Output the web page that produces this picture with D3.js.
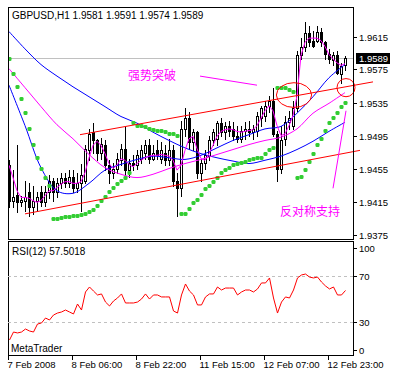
<!DOCTYPE html>
<html><head><meta charset="utf-8">
<script src="https://cdn.jsdelivr.net/npm/d3@7/dist/d3.min.js"></script>
<style>body{margin:0;background:#fff}svg{display:block}text{font-family:"Liberation Sans",Arial,sans-serif}</style>
</head><body><svg id="c" width="397" height="379"></svg>
<script>
const titleText = "GBPUSD,H1  1.9581 1.9591 1.9574 1.9589";
const rsiTitle = "RSI(12) 57.5018";
const brand = "MetaTrader";
const opens = [1.9459,1.9416,1.9423,1.9414,1.9416,1.9426,1.9408,1.9416,1.9426,1.9414,1.9426,1.9440,1.9426,1.9437,1.9443,1.9438,1.9445,1.9431,1.9438,1.9440,1.9477,1.9499,1.9489,1.9474,1.9483,1.9459,1.9450,1.9455,1.9465,1.9479,1.9453,1.9462,1.9459,1.9467,1.9474,1.9483,1.9467,1.9477,1.9467,1.9474,1.9465,1.9477,1.9440,1.9431,1.9503,1.9516,1.9487,1.9499,1.9450,1.9462,1.9470,1.9489,1.9491,1.9510,1.9499,1.9506,1.9503,1.9494,1.9491,1.9501,1.9503,1.9499,1.9501,1.9516,1.9519,1.9531,1.9537,1.9497,1.9455,1.9491,1.9511,1.9507,1.9528,1.9592,1.9602,1.9619,1.9610,1.9610,1.9620,1.9608,1.9594,1.9586,1.9593,1.9570,1.9581];
const highs = [1.9465,1.9453,1.9483,1.9422,1.9440,1.9437,1.9434,1.9426,1.9434,1.9434,1.9447,1.9443,1.9443,1.9450,1.9450,1.9453,1.9453,1.9450,1.9461,1.9483,1.9503,1.9510,1.9491,1.9492,1.9489,1.9465,1.9462,1.9474,1.9485,1.9507,1.9467,1.9471,1.9477,1.9483,1.9489,1.9491,1.9483,1.9489,1.9487,1.9483,1.9491,1.9483,1.9450,1.9513,1.9528,1.9523,1.9503,1.9501,1.9467,1.9477,1.9495,1.9503,1.9513,1.9516,1.9511,1.9513,1.9511,1.9507,1.9507,1.9511,1.9513,1.9508,1.9523,1.9531,1.9537,1.9543,1.9552,1.9501,1.9507,1.9519,1.9525,1.9537,1.9598,1.9613,1.9632,1.9628,1.9622,1.9628,1.9625,1.9610,1.9600,1.9596,1.9598,1.9583,1.9591];
const lows = [1.9408,1.9408,1.9402,1.9409,1.9404,1.9398,1.9400,1.9404,1.9409,1.9410,1.9419,1.9416,1.9421,1.9431,1.9433,1.9433,1.9426,1.9426,1.9404,1.9438,1.9465,1.9474,1.9465,1.9467,1.9453,1.9438,1.9443,1.9450,1.9459,1.9447,1.9445,1.9453,1.9455,1.9462,1.9467,1.9462,1.9465,1.9467,1.9462,1.9459,1.9459,1.9434,1.9398,1.9422,1.9495,1.9479,1.9477,1.9443,1.9440,1.9455,1.9465,1.9483,1.9483,1.9495,1.9491,1.9495,1.9489,1.9487,1.9487,1.9491,1.9494,1.9491,1.9495,1.9507,1.9513,1.9523,1.9495,1.9440,1.9450,1.9483,1.9503,1.9503,1.9525,1.9588,1.9598,1.9604,1.9602,1.9608,1.9604,1.9588,1.9583,1.9581,1.9569,1.9559,1.9574];
const closes = [1.9416,1.9421,1.9414,1.9417,1.9421,1.9408,1.9416,1.9421,1.9414,1.9426,1.9440,1.9426,1.9437,1.9443,1.9438,1.9445,1.9431,1.9438,1.9447,1.9479,1.9497,1.9489,1.9474,1.9485,1.9459,1.9450,1.9455,1.9467,1.9479,1.9453,1.9462,1.9459,1.9471,1.9477,1.9483,1.9467,1.9474,1.9471,1.9477,1.9465,1.9477,1.9440,1.9431,1.9503,1.9516,1.9487,1.9499,1.9450,1.9462,1.9471,1.9489,1.9499,1.9510,1.9499,1.9506,1.9501,1.9494,1.9491,1.9501,1.9503,1.9499,1.9503,1.9519,1.9528,1.9531,1.9537,1.9497,1.9455,1.9489,1.9511,1.9516,1.9528,1.9592,1.9602,1.9619,1.9608,1.9604,1.9620,1.9608,1.9594,1.9588,1.9593,1.9571,1.9579,1.9589];
const sar = [1.9588,1.9570,1.9554,1.9539,1.9522,1.9503,1.9484,1.9468,1.9455,1.9444,1.9434,1.9394,1.9394,1.9395,1.9396,1.9396,1.9397,1.9398,1.9399,1.9400,1.9402,1.9405,1.9410,1.9416,1.9421,1.9426,1.9431,1.9436,1.9440,1.9444,1.9449,1.9510,1.9507,1.9506,1.9505,1.9503,1.9502,1.9501,1.9500,1.9499,1.9497,1.9497,1.9495,1.9400,1.9400,1.9406,1.9413,1.9417,1.9423,1.9430,1.9434,1.9439,1.9444,1.9449,1.9453,1.9456,1.9459,1.9461,1.9462,1.9463,1.9465,1.9467,1.9468,1.9468,1.9472,1.9477,1.9480,1.9553,1.9553,1.9552,1.9550,1.9548,1.9443,1.9445,1.9453,1.9463,1.9473,1.9483,1.9491,1.9500,1.9510,1.9516,1.9522,1.9529,1.9535];
const maFastMagenta = [1.9459,1.9444,1.9428,1.9420,1.9420,1.9419,1.9416,1.9414,1.9416,1.9422,1.9428,1.9428,1.9432,1.9436,1.9439,1.9439,1.9437,1.9437,1.9439,1.9450,1.9468,1.9483,1.9488,1.9483,1.9473,1.9461,1.9455,1.9459,1.9467,1.9465,1.9460,1.9457,1.9461,1.9465,1.9468,1.9470,1.9471,1.9471,1.9472,1.9471,1.9470,1.9465,1.9453,1.9459,1.9477,1.9491,1.9494,1.9479,1.9467,1.9465,1.9473,1.9483,1.9494,1.9500,1.9502,1.9503,1.9502,1.9500,1.9499,1.9500,1.9501,1.9502,1.9507,1.9516,1.9525,1.9531,1.9525,1.9507,1.9495,1.9497,1.9507,1.9519,1.9543,1.9592,1.9608,1.9613,1.9613,1.9613,1.9610,1.9603,1.9593,1.9588,1.9583,1.9580,1.9582];
const maBars = [0,4,8,12,16,20,24,28,32,36,40,44,48,52,56,60,64,68,72,76,80,84];
const maSlowBlue = [1.9621,1.9600,1.9581,1.9567,1.9554,1.9542,1.9530,1.9518,1.9510,1.9499,1.9489,1.9480,1.9473,1.9468,1.9464,1.9461,1.9465,1.9470,1.9478,1.9488,1.9500,1.9511];
const maMidBlue = [1.9556,1.9507,1.9456,1.9428,1.9425,1.9437,1.9453,1.9460,1.9466,1.9470,1.9468,1.9466,1.9471,1.9480,1.9489,1.9496,1.9503,1.9506,1.9522,1.9542,1.9565,1.9581];
const maSlowMagenta = [1.9576,1.9553,1.9530,1.9508,1.9491,1.9472,1.9456,1.9448,1.9444,1.9448,1.9455,1.9461,1.9466,1.9472,1.9478,1.9484,1.9489,1.9493,1.9503,1.9522,1.9534,1.9547];
const rsi = [14.7,21.6,20.8,21.6,24.2,22.5,21.6,28.5,29.4,33.7,32.0,36.3,38.0,38.9,40.6,38.9,37.2,45.8,40.6,56.2,60.5,57.0,53.6,54.5,47.5,44.1,48.4,51.0,54.5,46.7,46.7,46.7,47.5,50.1,54.5,50.1,53.6,53.6,51.9,51.9,51.9,39.8,38.0,53.6,63.1,57.0,53.6,45.0,45.0,51.9,54.5,54.5,60.5,57.9,59.6,59.6,59.6,53.6,56.2,57.9,57.9,56.2,58.8,64.0,64.0,68.3,51.0,38.0,47.5,51.9,51.0,57.9,68.3,70.9,71.7,69.1,68.3,69.1,64.8,61.4,58.8,60.5,53.6,53.6,57.5];
const priceTicks = [1.9375,1.9415,1.9455,1.9495,1.9535,1.9575,1.9615];
const rsiTicks = [100,70,30,0];
const rsiLevels = [70,30];
const timeTickBars = [0,16,32,48,64,80];
const timeTickLabels = ["7 Feb 2008","8 Feb 06:00","8 Feb 22:00","11 Feb 15:00","12 Feb 07:00","12 Feb 23:00"];
const trendUpper = [[17.75,1.9496],[91,1.9560]];
const trendLower = [[4,1.9400],[87.75,1.9477]];
const circles = [[71.25,1.9544,4.4,0.0015],[84.25,1.9553,2.25,0.0011]];
const arrows = [[[47.75,1.9567],[62,1.9556]],[[81,1.9431],[84.25,1.9525]]];
const notes = [["强势突破",29.75,1.9562],["反对称支持",67.75,1.9397]];

const svg = d3.select("#c");
svg.append("rect").attr("width",397).attr("height",379).attr("fill","#fff");
const L=8, R=353, T=7, B=239, RT=241, RB=355;
const AXF = "9.5px";
const x = d3.scaleLinear().domain([0,84]).range([9,345]);
const y = d3.scaleLinear().domain([1.9375,1.9615]).range([234.5,36.5]);
const yr = d3.scaleLinear().domain([30,70]).range([322.3,276]);

const defs = svg.append("defs");
defs.append("clipPath").attr("id","mc").append("rect").attr("x",L).attr("y",T).attr("width",R-L).attr("height",B-T);
defs.append("clipPath").attr("id","rc").append("rect").attr("x",L).attr("y",RT).attr("width",R-L).attr("height",RB-RT);
const gm = svg.append("g").attr("clip-path","url(#mc)");

// current price line
const last = closes[closes.length-1];
const ly = Math.round(y(last));
gm.append("line").attr("x1",L).attr("x2",R).attr("y1",ly+0.5).attr("y2",ly+0.5).attr("stroke","#c0c0c0");

// candles
const idx = d3.range(closes.length);
const cg = gm.append("g").attr("shape-rendering","crispEdges");
cg.selectAll("line.w").data(idx).join("line").attr("class","w")
  .attr("x1",i=>Math.round(x(i))+0.5).attr("x2",i=>Math.round(x(i))+0.5)
  .attr("y1",i=>Math.round(y(highs[i]))).attr("y2",i=>Math.round(y(lows[i]))+1)
  .attr("stroke","#000");
cg.selectAll("rect.b").data(idx).join("rect").attr("class","b")
  .each(function(i){
    const cx=Math.round(x(i));
    const t=Math.round(y(Math.max(opens[i],closes[i]))), b=Math.round(y(Math.min(opens[i],closes[i])));
    const s=d3.select(this);
    if(closes[i]>=opens[i]){
      s.attr("x",cx-1+0.5).attr("y",t+0.5).attr("width",2).attr("height",Math.max(b-t,1)).attr("fill","#fff").attr("stroke","#000");
    } else {
      s.attr("x",cx-1).attr("y",t).attr("width",3).attr("height",Math.max(b-t+1,1)).attr("fill","#000");
    }
  });

// moving averages
const lineS = d3.line().x(d=>x(d[0])).y(d=>y(d[1])).curve(d3.curveCatmullRom);
gm.append("path").attr("d",lineS(maBars.map((b,k)=>[b,maSlowBlue[k]]))).attr("fill","none").attr("stroke","#0000ff");
gm.append("path").attr("d",lineS(maBars.map((b,k)=>[b,maMidBlue[k]]))).attr("fill","none").attr("stroke","#0000ff");
gm.append("path").attr("d",lineS(maBars.map((b,k)=>[b,maSlowMagenta[k]]))).attr("fill","none").attr("stroke","#ff00ff");
const lineF = d3.line().x((d,i)=>x(i)).y(d=>y(d));
gm.append("path").attr("d",lineF(maFastMagenta)).attr("fill","none").attr("stroke","#ff00ff");

// SAR
gm.selectAll("rect.s").data(idx).join("rect").attr("class","s")
  .attr("x",i=>Math.round(x(i))-1.5).attr("y",i=>Math.round(y(sar[i]))-2)
  .attr("width",4).attr("height",4).attr("rx",1.3).attr("fill","#32cd32");

// objects
const go = svg.append("g");
[trendUpper,trendLower].forEach(t=>{
  go.append("line").attr("x1",x(t[0][0])).attr("y1",y(t[0][1])).attr("x2",x(t[1][0])).attr("y2",y(t[1][1])).attr("stroke","#ff0000");
});
circles.forEach(c=>{
  go.append("ellipse").attr("cx",x(c[0])).attr("cy",y(c[1])).attr("rx",x(c[2])-x(0)).attr("ry",y(0)-y(c[3])).attr("fill","none").attr("stroke","#ff0000");
});
arrows.forEach(a=>{
  go.append("line").attr("x1",x(a[0][0])).attr("y1",y(a[0][1])).attr("x2",x(a[1][0])).attr("y2",y(a[1][1])).attr("stroke","#ff00ff");
});
notes.forEach(n=>{
  go.append("text").attr("x",x(n[1])).attr("y",y(n[2])).text(n[0]).attr("fill","#ff00ff")
    .style("font-family","'Noto Sans CJK SC'").style("font-size","12px");
});

// frames
svg.append("rect").attr("x",L+0.5).attr("y",T+0.5).attr("width",R-L).attr("height",B-T).attr("fill","none").attr("stroke","#000");
svg.append("rect").attr("x",L+0.5).attr("y",RT+0.5).attr("width",R-L).attr("height",RB-RT).attr("fill","none").attr("stroke","#000");

// price axis
const pa = svg.append("g");
priceTicks.forEach(p=>{
  const yy=Math.round(y(p))+0.5;
  pa.append("line").attr("x1",R+1).attr("x2",R+4).attr("y1",yy).attr("y2",yy).attr("stroke","#000");
  pa.append("text").attr("x",359).attr("y",yy+3.5).text(p.toFixed(4)).style("font-size",AXF);
});
pa.append("rect").attr("x",356).attr("y",ly-5).attr("width",34).attr("height",11).attr("fill","#000");
pa.append("text").attr("x",359).attr("y",ly+4).text(last.toFixed(4)).attr("fill","#fff").style("font-size",AXF);

svg.append("text").attr("x",12).attr("y",19).text(titleText).style("font-size","10px");

// RSI
const gr = svg.append("g").attr("clip-path","url(#rc)");
rsiLevels.forEach(v=>{
  gr.append("line").attr("x1",L).attr("x2",R).attr("y1",Math.round(yr(v))+0.5).attr("y2",Math.round(yr(v))+0.5)
    .attr("stroke","#c0c0c0").attr("stroke-dasharray","3,3");
});
gr.append("path").attr("d",d3.line().x((d,i)=>Math.round(x(i))+0.5).y(d=>yr(d))(rsi)).attr("fill","none").attr("stroke","#ff0000");
const rLab = {100:248,70:yr(70),30:yr(30),0:350};
rsiTicks.forEach(v=>{
  const yy = Math.round(rLab[v])+0.5;
  svg.append("line").attr("x1",R+1).attr("x2",R+4).attr("y1",yy).attr("y2",yy).attr("stroke","#000");
  svg.append("text").attr("x",359).attr("y",yy+3.5).text(v).style("font-size",AXF);
});
svg.append("text").attr("x",12).attr("y",255).text(rsiTitle).style("font-size","10px");
svg.append("text").attr("x",11).attr("y",352).text(brand).style("font-size","10px");

// time axis
timeTickBars.forEach((b,k)=>{
  const xx = Math.round(x(b))-1+0.5;
  svg.append("line").attr("x1",xx).attr("x2",xx).attr("y1",RB+1).attr("y2",RB+5).attr("stroke","#000");
  svg.append("text").attr("x",xx-1).attr("y",368).text(timeTickLabels[k]).style("font-size",AXF);
});
</script></body></html>
